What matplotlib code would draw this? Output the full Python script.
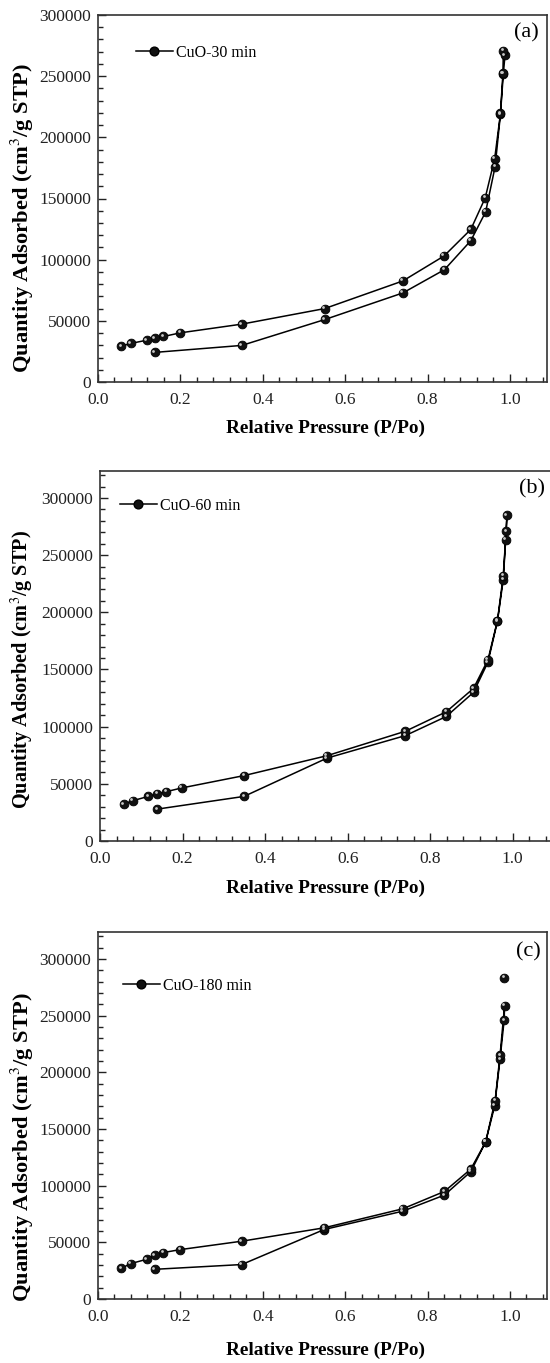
import matplotlib
matplotlib.use("Agg")
import matplotlib.pyplot as plt
from matplotlib.ticker import MultipleLocator
import matplotlib.transforms as mtransforms

plt.rcParams['font.family'] = ['Liberation Serif', 'DejaVu Serif']
plt.rcParams['mathtext.fontset'] = 'stix'

# ---------------- data ----------------
labels = ["CuO-30 min", "CuO-60 min", "CuO-180 min"]
panel_tags = ["(a)", "(b)", "(c)"]

# (a) CuO-30 min
a_ads_x = [0.138, 0.349, 0.551, 0.740, 0.841, 0.905, 0.941, 0.964, 0.977, 0.984, 0.988]
a_ads_y = [24200, 29900, 51100, 72800, 91800, 115500, 139000, 176000, 218800, 252000, 267000]
a_des_x = [0.984, 0.983, 0.977, 0.963, 0.940, 0.905, 0.840, 0.740, 0.550, 0.349, 0.200, 0.159, 0.138, 0.119, 0.079, 0.057]
a_des_y = [270700, 252500, 219500, 182600, 150500, 124700, 103000, 82600, 60000, 47300, 40200, 37200, 35900, 34200, 31500, 29300]

# (b) CuO-60 min
b_ads_x = [0.139, 0.349, 0.550, 0.740, 0.839, 0.905, 0.940, 0.963, 0.977, 0.983, 0.986]
b_ads_y = [27900, 39000, 72500, 92200, 108900, 130000, 156400, 192300, 228400, 263600, 284700]
b_des_x = [0.984, 0.977, 0.963, 0.940, 0.905, 0.839, 0.740, 0.550, 0.349, 0.198, 0.160, 0.139, 0.117, 0.079, 0.058]
b_des_y = [271000, 231900, 192800, 158500, 133500, 113000, 96000, 74600, 57200, 46400, 43100, 41100, 39000, 35200, 32300]

# (c) CuO-180 min
c_ads_x = [0.138, 0.349, 0.549, 0.740, 0.841, 0.905, 0.941, 0.963, 0.976, 0.986, 0.986]
c_ads_y = [26200, 30400, 61300, 77500, 91700, 112300, 138500, 170400, 211600, 246100, 283200]
c_des_x = [0.987, 0.976, 0.964, 0.941, 0.905, 0.841, 0.740, 0.549, 0.349, 0.200, 0.159, 0.138, 0.119, 0.079, 0.057]
c_des_y = [258800, 215000, 175000, 138500, 114600, 94900, 79600, 62800, 51000, 43600, 41000, 38600, 35100, 31200, 27100]

series = [
    (a_ads_x, a_ads_y, a_des_x, a_des_y),
    (b_ads_x, b_ads_y, b_des_x, b_des_y),
    (c_ads_x, c_ads_y, c_des_x, c_des_y),
]

x_ticks = [0.0, 0.2, 0.4, 0.6, 0.8, 1.0]
y_ticks = [0, 50000, 100000, 150000, 200000, 250000, 300000]

# ---------------- layout ----------------
W, H = 550, 1363
fig = plt.figure(figsize=(W / 100, H / 100), dpi=100)

# pixel boxes: left, top, right, bottom
boxes = [
    (98, 15, 547, 382),
    (100, 471, 554, 841),
    (98, 932, 547, 1299),
]
xmaxs = [1.09, 1.1, 1.09]
ymaxs = [300000, 323600, 323800]
legend_pos = [(136, 53), (120, 506), (123, 986)]
tag_pos = [(526, 33), (532, 489), (528, 952)]
xlabel_y = [428, 888, 1350]
ylabel_cy = [218, 670, 1147]
ylabel_fs = [16.2, 14.6, 16.2]

MS = 6.3
for i, ((l, t, r, b), (ax_x, ax_y, dx, dy)) in enumerate(zip(boxes, series)):
    ax = fig.add_axes([l / W, 1 - b / H, (r - l) / W, (b - t) / H])
    xs = list(ax_x) + list(dx)
    ys = list(ax_y) + list(dy)
    if i == 2:
        line_x = list(ax_x[:-1]) + list(dx)
        line_y = list(ax_y[:-1]) + list(dy)
    else:
        line_x, line_y = xs, ys
    ax.plot(line_x, line_y, '-', color='black', lw=1.1, zorder=2)
    ax.plot(xs, ys, 'o', ms=MS, mfc='#111111', mec='black', mew=0.6, zorder=3)
    hl = mtransforms.offset_copy(ax.transData, fig=fig, x=-1.1, y=1.1, units='points')
    ax.plot(xs, ys, 'o', ms=2.0, mfc='#c8c8c8', mec='none', zorder=4, transform=hl)

    ax.set_xlim(0, xmaxs[i])
    ax.set_ylim(0, ymaxs[i])
    ax.set_xticks(x_ticks)
    ax.set_xticklabels([f"{v:.1f}" for v in x_ticks])
    ax.set_yticks(y_ticks)
    ax.set_yticklabels([str(v) for v in y_ticks])
    ax.xaxis.set_minor_locator(MultipleLocator(0.04))
    ax.yaxis.set_minor_locator(MultipleLocator(10000))
    ax.tick_params(which='both', direction='in', top=False, right=False,
                   labelsize=12.5, colors='#222222', width=1.0)
    ax.tick_params(axis='x', pad=7)
    ax.tick_params(axis='y', pad=5)
    ax.tick_params(which='major', length=6)
    ax.tick_params(which='minor', length=3.5)
    for sp in ax.spines.values():
        sp.set_linewidth(1.2)
        sp.set_color('#333333')

    fig.text(22 / W, 1 - ylabel_cy[i] / H, "Quantity Adsorbed (cm$^{3}$/g STP)",
             fontsize=ylabel_fs[i], fontweight='bold', rotation=90, ha='center', va='center')
    fig.text(326 / W, 1 - xlabel_y[i] / H, "Relative Pressure (P/Po)",
             fontsize=13.9, fontweight='bold', ha='center', va='center')

    # legend
    h1, = ax.plot([], [], '-o', color='black', lw=1.1, ms=MS, mfc='#111111', mec='black')
    lx, ly = legend_pos[i]
    ax.legend([h1], [labels[i]],
              loc='center left', bbox_to_anchor=(lx / W, 1 - ly / H),
              bbox_transform=fig.transFigure, frameon=False, fontsize=11.5,
              handlelength=2.3, handletextpad=0.2, borderpad=0, borderaxespad=0)

    tx, ty = tag_pos[i]
    fig.text(tx / W, 1 - ty / H, panel_tags[i], fontsize=16, ha='center', va='center')

fig.savefig("out.png", dpi=100)
